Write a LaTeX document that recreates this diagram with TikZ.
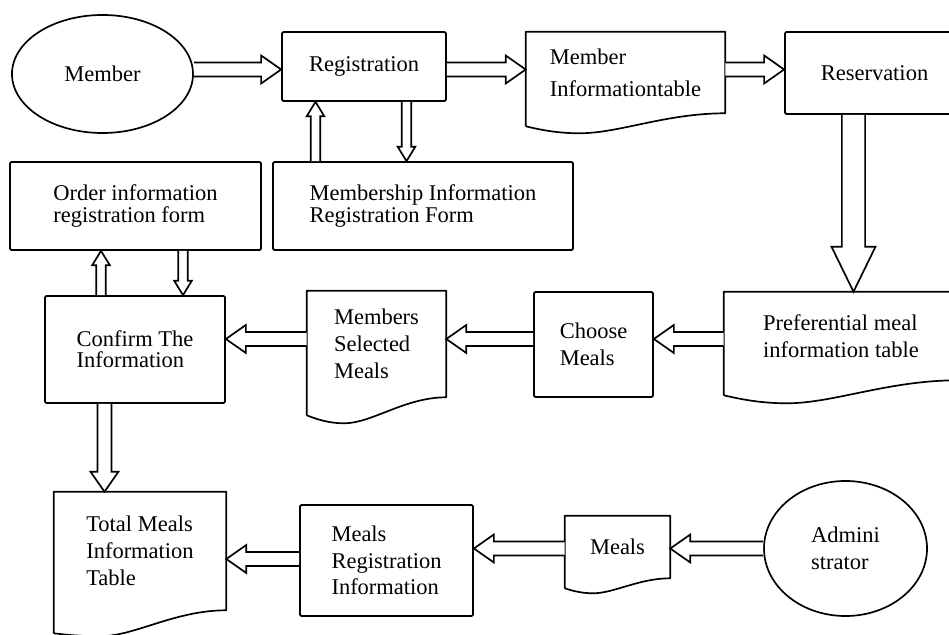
\documentclass[tikz,border=0pt]{standalone}
\usepackage{fontspec}
\setmainfont{Liberation Serif}
\usetikzlibrary{shapes.geometric, calc}

\tikzset{
  lbl/.style={align=left, inner sep=0pt, font=\fontsize{16}{19}\selectfont},
  box/.style={lbl, draw, line width=1.2pt, rounded corners=1pt},
  doc/.style={lbl},
  actor/.style={lbl, ellipse, draw, line width=1.2pt},
  tight/.style={font=\fontsize{16}{15}\selectfont},
  loose/.style={font=\fontsize{16}{23}\selectfont},
  % hollow block arrow: half shaft, half head, head length
  hollow/.style n args={3}{to path={
    let \p1=(\tikztostart), \p2=(\tikztotarget),
        \n1={atan2(\y2-\y1,\x2-\x1)}, \n2={veclen(\x2-\x1,\y2-\y1)} in
    {[shift={(\p1)}, rotate=\n1]
      (0pt,#1) -- (\n2-#3,#1) -- (\n2-#3,#2) -- (\n2+0pt,0pt)
      -- (\n2-#3,-#2) -- (\n2-#3,-#1) -- (0pt,-#1)}
  }},
  flowline/.style={draw, fill=white, line width=1.2pt, line join=miter},
  flow/.style={flowline, hollow={0.175cm}{0.35cm}{0.5cm}},
  thinflow/.style={flowline, hollow={0.12cm}{0.22cm}{0.36cm}},
  bigflow/.style={flowline, hollow={0.29cm}{0.55cm}{1.125cm}},
}

% document outline with wavy bottom: node, width, dip, left drop (px)
\newcommand{\docline}[4]{%
  \draw[line width=1.2pt, line join=round]
    ($(#1.south west)+(0,#4)$) -- (#1.north west) -- (#1.north east) -- (#1.south east)
    .. controls +(-0.3*#2,0) and +(0.2*#2,0) .. ($(#1.south west)+(0.27*#2,#3)$)
    .. controls +(-0.12*#2,0) and +(0.06*#2,0.4*#3-0.4*#4) .. ($(#1.south west)+(0,#4)$);
}

\begin{document}
\begin{tikzpicture}[x=0.025cm, y=-0.025cm]
  \useasboundingbox (0,0) rectangle (949,635);
  \clip (0,0) rectangle (949,635);

  % lanes for the connectors
  \coordinate (rowA) at (0,69.5);
  \coordinate (rowB) at (0,339);
  \coordinate (rowC) at (0,559);
  \coordinate (rowD) at (0,548.5);
  \coordinate (regup) at (315.5,0);
  \coordinate (regdown) at (406.5,0);
  \coordinate (ordup) at (101,0);
  \coordinate (orddown) at (183,0);
  \coordinate (resdown) at (853.5,0);
  \coordinate (confdown) at (104.5,0);

  % top row
  \node[actor, minimum width=4.525cm, minimum height=2.95cm] (member) at (102.5,74) {Member};
  \node[box, minimum width=4.1cm, minimum height=1.725cm] (reg) at (364,66.5) {Registration};
  \node[doc, loose, minimum width=4.975cm, minimum height=2.025cm] (mit) at (625.5,72.5) {Member\\Informationtable};
  \node[box, minimum width=4.475cm, minimum height=2.05cm] (resv) at (874.5,73) {Reservation};

  % forms
  \node[box, tight, minimum width=6.275cm, minimum height=2.2cm] (ordform) at (135.5,206) {Order information\\registration form};
  \node[box, tight, minimum width=7.5cm, minimum height=2.2cm] (memform) at (423,206) {Membership Information\\Registration Form};

  % middle row
  \node[box, tight, minimum width=4.5cm, minimum height=2.675cm] (confirm) at (135,349.5) {Confirm The\\Information};
  \node[doc, minimum width=3.475cm, minimum height=2.65cm] (msm) at (376.5,344) {Members\\Selected\\Meals};
  \node[box, minimum width=2.975cm, minimum height=2.625cm] (choose) at (593.5,344.5) {Choose\\Meals};
  \node[doc, minimum width=5.85cm, minimum height=2.2cm] (pref) at (841,336) {Preferential meal\\information table};

  % bottom row
  \node[doc, minimum width=4.3cm, minimum height=2.95cm] (tmit) at (140,551) {Total Meals\\Information\\Table};
  \node[box, minimum width=4.325cm, minimum height=2.775cm] (mri) at (386.5,560.5) {Meals\\Registration\\Information};
  \node[doc, minimum width=2.625cm, minimum height=1.55cm] (meals) at (617.5,547) {Meals};
  \node[actor, minimum width=4.075cm, minimum height=3.375cm] (admin) at (845.5,548.5) {Admini\\strator};

  % document outlines
  \docline{mit}{199}{20}{13}
  \docline{msm}{139}{26}{18}
  \docline{pref}{234}{23}{15}
  \docline{tmit}{172}{26}{23}
  \docline{meals}{105}{15}{10}

  % connectors
  \draw[flow] (member.east |- rowA) to (reg.west |- rowA);
  \draw[flow] (reg.east |- rowA) to (mit.west |- rowA);
  \draw[flow] (mit.east |- rowA) to (resv.west |- rowA);
  \draw[thinflow] (memform.north -| regup) to (reg.south -| regup);
  \draw[thinflow] (reg.south -| regdown) to (memform.north -| regdown);
  \draw[thinflow] (confirm.north -| ordup) to (ordform.south -| ordup);
  \draw[thinflow] (ordform.south -| orddown) to (confirm.north -| orddown);
  \draw[bigflow] (resv.south -| resdown) to (pref.north -| resdown);
  \draw[flow] (pref.west |- rowB) to (choose.east |- rowB);
  \draw[flow] (choose.west |- rowB) to (msm.east |- rowB);
  \draw[flow] (msm.west |- rowB) to (confirm.east |- rowB);
  \draw[flow] (confirm.south -| confdown) to (tmit.north -| confdown);
  \draw[flow] (mri.west |- rowC) to (tmit.east |- rowC);
  \draw[flow] (meals.west |- rowD) to (mri.east |- rowD);
  \draw[flow] (admin.west |- rowD) to (meals.east |- rowD);
\end{tikzpicture}
\end{document}
